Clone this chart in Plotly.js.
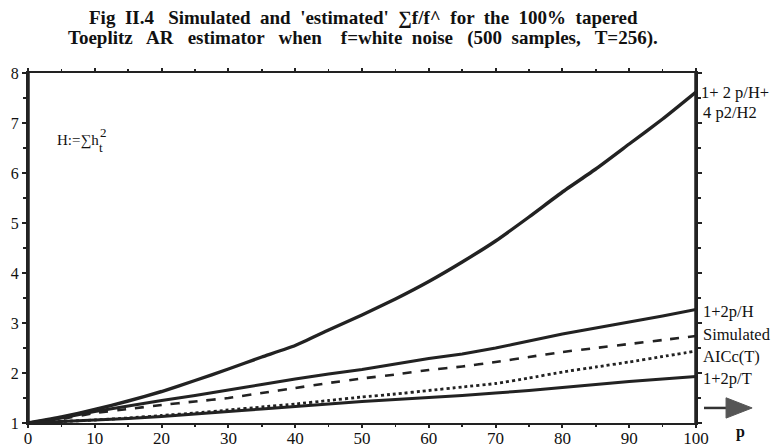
<!DOCTYPE html>
<html>
<head>
<meta charset="utf-8">
<script src="https://cdn.plot.ly/plotly-3.0.1.min.js"></script>
<style>
html,body{margin:0;padding:0;background:#fff;}#chart{width:775px;height:447px;}
#chart .xtick text, #chart .ytick text{font-family:"Liberation Serif","Times New Roman",serif !important;}
</style>
</head>
<body>
<div id="chart"></div>
<script>
// p values (AR order)
const pVals = [0,5,10,15,20,25,30,35,40,45,50,55,60,65,70,75,80,85,90,95,100];
// 1+2p/H+4p2/H2
const quadH = [1.0,1.12,1.27,1.44,1.63,1.85,2.08,2.32,2.55,2.86,3.16,3.48,3.83,4.22,4.64,5.12,5.62,6.08,6.58,7.08,7.62];
// 1+2p/H
const linH = [1.0,1.10,1.23,1.34,1.45,1.55,1.66,1.77,1.88,1.98,2.07,2.18,2.29,2.38,2.50,2.64,2.78,2.90,3.02,3.14,3.27];
// Simulated
const simulated = [1.0,1.08,1.20,1.28,1.36,1.43,1.50,1.60,1.70,1.80,1.89,1.97,2.06,2.13,2.22,2.32,2.42,2.50,2.58,2.66,2.74];
// AICc(T)
const aicc = [1.0,1.03,1.06,1.10,1.15,1.20,1.26,1.32,1.38,1.45,1.52,1.58,1.65,1.72,1.79,1.90,2.02,2.12,2.22,2.33,2.44];
// 1+2p/T
const linT = [1.0,1.03,1.06,1.09,1.13,1.18,1.23,1.28,1.33,1.38,1.43,1.47,1.51,1.55,1.60,1.65,1.71,1.77,1.83,1.88,1.93];

const xTicks = [0,10,20,30,40,50,60,70,80,90,100];
const yTicks = [1,2,3,4,5,6,7,8];

const serif = "Liberation Serif";
const mk = (y, w, dash) => ({x: pVals, y: y, type: 'scatter', mode: 'lines',
  line: {color: '#222', width: w, dash: dash, shape: 'spline', smoothing: 0.4}, hoverinfo: 'skip'});

const data = [
  mk(quadH, 3.4, 'solid'),
  mk(linH, 3, 'solid'),
  mk(simulated, 2.6, 'dash'),
  mk(aicc, 2.8, 'dot'),
  mk(linT, 3, 'solid')
];

const lbl = (text, y, x) => ({xref: 'paper', yref: 'paper', x: x === undefined ? 1.005 : x, y: y,
  xanchor: 'left', yanchor: 'middle', text: text, showarrow: false,
  font: {family: serif, size: 16.5, color: '#111'}});

const ttl = (text, y) => ({xref: 'paper', yref: 'paper', x: 0.502, y: y, xanchor: 'center', yanchor: 'middle',
  text: '<b>' + text + '</b>', showarrow: false, font: {family: serif, size: 19, color: '#111'}});

const layout = {
  width: 775, height: 447,
  margin: {l: 28, r: 79, t: 73, b: 24},
  paper_bgcolor: '#fff', plot_bgcolor: '#fff',
  font: {family: serif, color: '#111'},
  showlegend: false,
  xaxis: {
    range: [0, 100], tickvals: xTicks, ticktext: xTicks.map(String),
    showgrid: false, zeroline: false, showline: true, linecolor: '#222', linewidth: 2,
    mirror: 'ticks', ticks: 'outside', ticklen: 3, tickwidth: 2, tickcolor: '#222',
    minor: {dtick: 5, ticks: 'outside', ticklen: 2, tickwidth: 1.5, tickcolor: '#222'},
    ticklabelstandoff: -4,
    tickfont: {family: serif, size: 17, color: '#111'}
  },
  yaxis: {
    range: [1, 8], tickvals: yTicks, ticktext: yTicks.map(String),
    showgrid: false, zeroline: false, showline: true, linecolor: '#222', linewidth: 2,
    mirror: 'ticks', ticks: 'outside', ticklen: 4, tickwidth: 2, tickcolor: '#222',
    minor: {dtick: 0.5, ticks: 'outside', ticklen: 3, tickwidth: 1.5, tickcolor: '#222'},
    tickfont: {family: serif, size: 16, color: '#111'}
  },
  shapes: [
    {type: 'line', xref: 'paper', yref: 'paper', x0: 0, x1: 0, y0: 0, y1: 1, line: {color: '#222', width: 3.5}},
    {type: 'line', xref: 'paper', yref: 'paper', x0: 1, x1: 1, y0: 0, y1: 1, line: {color: '#222', width: 3.5}},
    {type: 'line', xref: 'paper', yref: 'paper', x0: 1.012, x1: 1.05, y0: 0.043, y1: 0.043, line: {color: '#333', width: 2.5}},
    {type: 'path', xref: 'paper', yref: 'paper', path: 'M 1.045 0.072 L 1.084 0.043 L 1.045 0.014 Z', fillcolor: '#555', line: {color: '#555', width: 1}}
  ],
  annotations: [
    ttl("Fig  II.4   Simulated  and  'estimated'  ∑f/f^  for  the  100%  tapered", 1.158),
    ttl("Toeplitz   AR   estimator   when    f=white  noise   (500  samples,   T=256).", 1.1),
    lbl('1+ 2 p/H+', 0.943, 1.004),
    lbl('4 p2/H2', 0.886, 1.007),
    lbl('1+2p/H', 0.32, 1.007),
    lbl('Simulated', 0.254, 1.007),
    lbl('AICc(T)', 0.191, 1.007),
    lbl('1+2p/T', 0.126, 1.007),
    {xref: 'paper', yref: 'paper', x: 1.067, y: -0.026, xanchor: 'center', yanchor: 'middle', text: '<b>p</b>',
     showarrow: false, font: {family: serif, size: 16, color: '#111'}},
    {xref: 'paper', yref: 'paper', x: 0.04, y: 0.807, xanchor: 'left', yanchor: 'middle', text: 'H:=∑h',
     showarrow: false, font: {family: serif, size: 15, color: '#111'}},
    {xref: 'paper', yref: 'paper', x: 0.1045, y: 0.83, xanchor: 'left', yanchor: 'middle', text: '2',
     showarrow: false, font: {family: serif, size: 13, color: '#111'}},
    {xref: 'paper', yref: 'paper', x: 0.1035, y: 0.788, xanchor: 'left', yanchor: 'middle', text: 't',
     showarrow: false, font: {family: serif, size: 13, color: '#111'}}
  ]
};

Plotly.newPlot('chart', data, layout, {staticPlot: true, displayModeBar: false});
</script>
</body>
</html>
